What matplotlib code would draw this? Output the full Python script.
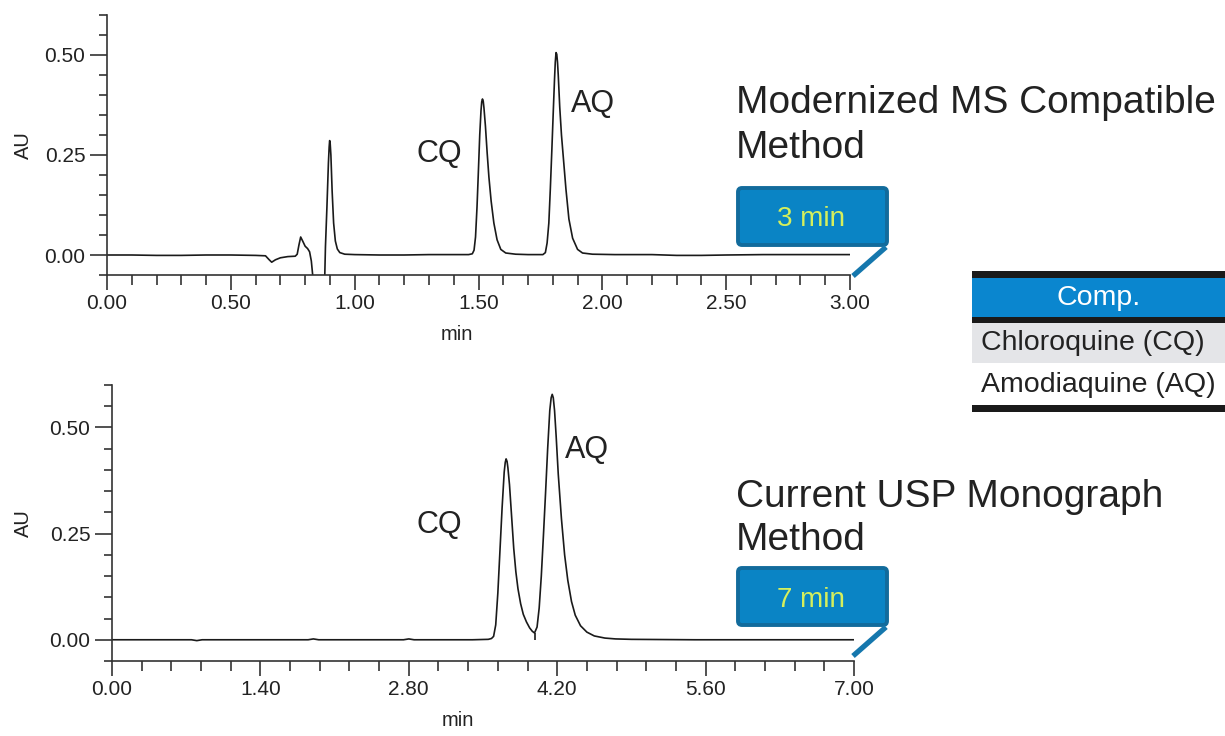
from matplotlib import pyplot as plt
from matplotlib.patches import FancyBboxPatch, Rectangle
from matplotlib.ticker import MultipleLocator, FixedLocator

plt.rcParams['font.family'] = ['Liberation Sans', 'DejaVu Sans']

# modernized MS compatible method (3 min run)
mod_time = [0.00, 0.10, 0.20, 0.30, 0.40, 0.50, 0.60, 0.64, 0.655, 0.665, 0.68, 0.70, 0.73, 0.76,
            0.768, 0.775, 0.782, 0.79, 0.80, 0.81, 0.818, 0.825, 0.832, 0.85, 0.875, 0.879, 0.882,
            0.888, 0.894, 0.897, 0.899, 0.901, 0.904, 0.909, 0.915, 0.922, 0.93, 0.94, 0.96, 1.00,
            1.10, 1.20, 1.30, 1.40, 1.46, 1.475, 1.482, 1.488, 1.494, 1.499, 1.505, 1.510, 1.513,
            1.516, 1.519, 1.522, 1.528, 1.535, 1.542, 1.551, 1.562, 1.575, 1.59, 1.61, 1.65, 1.70,
            1.76, 1.770, 1.777, 1.784, 1.790, 1.796, 1.802, 1.807, 1.810, 1.813, 1.816, 1.819,
            1.822, 1.828, 1.835, 1.843, 1.853, 1.865, 1.880, 1.90, 1.92, 1.96, 2.05, 2.20, 2.30,
            2.40, 2.50, 2.65, 2.80, 3.00]
mod_au = [0.000, 0.000, -0.001, -0.001, 0.000, 0.000, -0.001, -0.002, -0.012, -0.018, -0.012, -0.007,
          -0.004, -0.003, 0.002, 0.025, 0.045, 0.035, 0.022, 0.016, 0.008, -0.015, -0.06, -0.20, -0.20,
          -0.06, 0.02, 0.12, 0.23, 0.27, 0.286, 0.28, 0.25, 0.16, 0.08, 0.035, 0.015, 0.006, 0.002,
          0.001, 0.000, 0.000, 0.001, 0.001, 0.001, 0.003, 0.012, 0.045, 0.12, 0.20, 0.30, 0.36,
          0.383, 0.390, 0.385, 0.368, 0.322, 0.255, 0.195, 0.135, 0.08, 0.038, 0.014, 0.005, 0.002,
          0.001, 0.001, 0.006, 0.03, 0.08, 0.165, 0.26, 0.36, 0.44, 0.482, 0.506, 0.502, 0.482,
          0.45, 0.37, 0.30, 0.24, 0.165, 0.09, 0.042, 0.014, 0.005, 0.002, 0.001, 0.001, -0.001,
          -0.001, 0.000, 0.001, 0.001, 0.001]

# current USP monograph method (7 min run)
usp_time = [0.00, 0.50, 0.75, 0.80, 0.85, 1.40, 1.85, 1.90, 1.95, 2.50, 2.75, 2.80, 2.85, 3.40,
            3.55, 3.58, 3.60, 3.62, 3.64, 3.66, 3.68, 3.70, 3.71, 3.718, 3.727, 3.735, 3.75, 3.77,
            3.79, 3.81, 3.83, 3.855, 3.88, 3.91, 3.94, 3.965, 3.986, 4.01, 4.03, 4.05, 4.07, 4.09,
            4.11, 4.13, 4.143, 4.153, 4.163, 4.175, 4.19, 4.21, 4.24, 4.27, 4.30, 4.335, 4.37, 4.42,
            4.48, 4.55, 4.65, 4.75, 4.90, 5.50, 6.30, 7.00]
usp_au = [0.000, 0.000, 0.000, -0.002, 0.000, 0.000, 0.000, 0.002, 0.000, 0.000, 0.000, 0.002, 0.000,
          0.000, 0.001, 0.003, 0.008, 0.035, 0.11, 0.21, 0.31, 0.395, 0.418, 0.426, 0.42, 0.405, 0.365,
          0.29, 0.215, 0.16, 0.12, 0.085, 0.06, 0.042, 0.028, 0.02, 0.016, 0.03, 0.075, 0.15, 0.245,
          0.345, 0.45, 0.54, 0.570, 0.578, 0.570, 0.54, 0.48, 0.39, 0.285, 0.20, 0.14, 0.09, 0.058,
          0.033, 0.018, 0.009, 0.004, 0.002, 0.001, 0.000, 0.000, 0.000]
usp_valley = (3.986, 0.016)

mod_xticks = [0.0, 0.5, 1.0, 1.5, 2.0, 2.5, 3.0]
usp_xticks = [0.0, 1.4, 2.8, 4.2, 5.6, 7.0]
yticks = [0.0, 0.25, 0.5]

table_rows = ['Chloroquine (CQ)', 'Amodiaquine (AQ)']

W, H = 1225, 736
fig = plt.figure(figsize=(W / 100, H / 100), dpi=100)

axis_col = '#333333'
line_col = '#1a1a1a'
text_col = '#222222'


def style_axes(ax, xticks, xminor, xmax):
    ax.set_xlim(0, xmax)
    ax.set_ylim(-0.05, 0.60)
    for s in ['top', 'right']:
        ax.spines[s].set_visible(False)
    for s in ['left', 'bottom']:
        ax.spines[s].set_color(axis_col)
        ax.spines[s].set_linewidth(1.2)
    ax.set_xticks(xticks)
    ax.set_xticklabels(['{:.2f}'.format(t) for t in xticks])
    ax.xaxis.set_minor_locator(MultipleLocator(xminor))
    ax.set_yticks(yticks)
    ax.set_yticklabels(['{:.2f}'.format(t) for t in yticks])
    ax.yaxis.set_minor_locator(FixedLocator([-0.05 + 0.05 * i for i in range(14)]))
    ax.tick_params(which='both', direction='out', color=axis_col, width=1.2,
                   labelsize=15, labelcolor=text_col, pad=3)
    ax.tick_params(axis='x', which='major', length=11)
    ax.tick_params(axis='x', which='minor', length=7.5)
    ax.tick_params(axis='y', which='major', length=12.5)
    ax.tick_params(axis='y', which='minor', length=6)


# top chromatogram
ax1 = fig.add_axes([107 / W, 1 - 275 / H, 743 / W, 260 / H])
ax1.plot(mod_time, mod_au, color=line_col, lw=1.2)
style_axes(ax1, mod_xticks, 0.1, 3.0)
ax1.set_xlabel('min', fontsize=14.5, color=text_col)
ax1.xaxis.label.set_va('baseline')
ax1.xaxis.set_label_coords(0.471, -65 / 260)
ax1.set_ylabel('AU', fontsize=14.5, color=text_col)
ax1.yaxis.label.set_va('center')
ax1.yaxis.set_label_coords(-84 / 743, 0.5)

# bottom chromatogram
ax2 = fig.add_axes([112 / W, 1 - 661 / H, 742 / W, 276 / H])
ax2.plot(usp_time, usp_au, color=line_col, lw=1.2)
ax2.vlines(usp_valley[0], 0.0, usp_valley[1], color=line_col, lw=1.2)
style_axes(ax2, usp_xticks, 0.28, 7.0)
ax2.set_xlabel('min', fontsize=14.5, color=text_col)
ax2.xaxis.label.set_va('baseline')
ax2.xaxis.set_label_coords(0.466, -65 / 276)
ax2.set_ylabel('AU', fontsize=14.5, color=text_col)
ax2.yaxis.label.set_va('center')
ax2.yaxis.set_label_coords(-89 / 742, 0.5)

# overlay in pixel coordinates for labels, call-outs and table
ov = fig.add_axes([0, 0, 1, 1])
ov.set_xlim(0, W)
ov.set_ylim(H, 0)
ov.axis('off')

ov.text(416, 162, 'CQ', fontsize=22, color=text_col, va='baseline')
ov.text(571, 112, 'AQ', fontsize=22, color=text_col, va='baseline')
ov.text(417, 533, 'CQ', fontsize=22, color=text_col, va='baseline')
ov.text(565, 458, 'AQ', fontsize=22, color=text_col, va='baseline')

ov.text(736, 113, 'Modernized MS Compatible', fontsize=28, color=text_col, va='baseline')
ov.text(736, 158, 'Method', fontsize=28, color=text_col, va='baseline')
ov.text(736, 507, 'Current USP Monograph', fontsize=28, color=text_col, va='baseline')
ov.text(736, 550, 'Method', fontsize=28, color=text_col, va='baseline')

box_fill = '#0a84c5'
box_edge = '#126b9c'
for top, label, base in [(188, '3 min', 226), (568, '7 min', 607)]:
    ov.add_patch(FancyBboxPatch((738, top), 149, 57,
                                boxstyle='round,pad=0,rounding_size=4',
                                fc=box_fill, ec=box_edge, lw=2.8))
    ov.plot([886, 853], [top + 59, top + 88], color='#1577ad', lw=3.8,
            solid_capstyle='butt')
    ov.text(811, base, label, fontsize=20, color='#d6ef5c', ha='center', va='baseline')

# compound table
tx0, tx1 = 972, 1225
ov.add_patch(Rectangle((tx0, 271), tx1 - tx0, 7, fc='#1a1a1a', ec='none'))
ov.add_patch(Rectangle((tx0, 278), tx1 - tx0, 39, fc='#0a86cf', ec='none'))
ov.add_patch(Rectangle((tx0, 317), tx1 - tx0, 6, fc='#1a1a1a', ec='none'))
ov.add_patch(Rectangle((tx0, 323), tx1 - tx0, 40, fc='#e4e5e8', ec='none'))
ov.add_patch(Rectangle((tx0, 405), tx1 - tx0, 7, fc='#1a1a1a', ec='none'))
ov.text((tx0 + tx1) / 2, 305, 'Comp.', fontsize=20.5, color='white', ha='center', va='baseline')
for row, base in zip(table_rows, [350, 392]):
    ov.text(981, base, row, fontsize=20.5, color=text_col, va='baseline')

plt.savefig('out.png', dpi=100)
